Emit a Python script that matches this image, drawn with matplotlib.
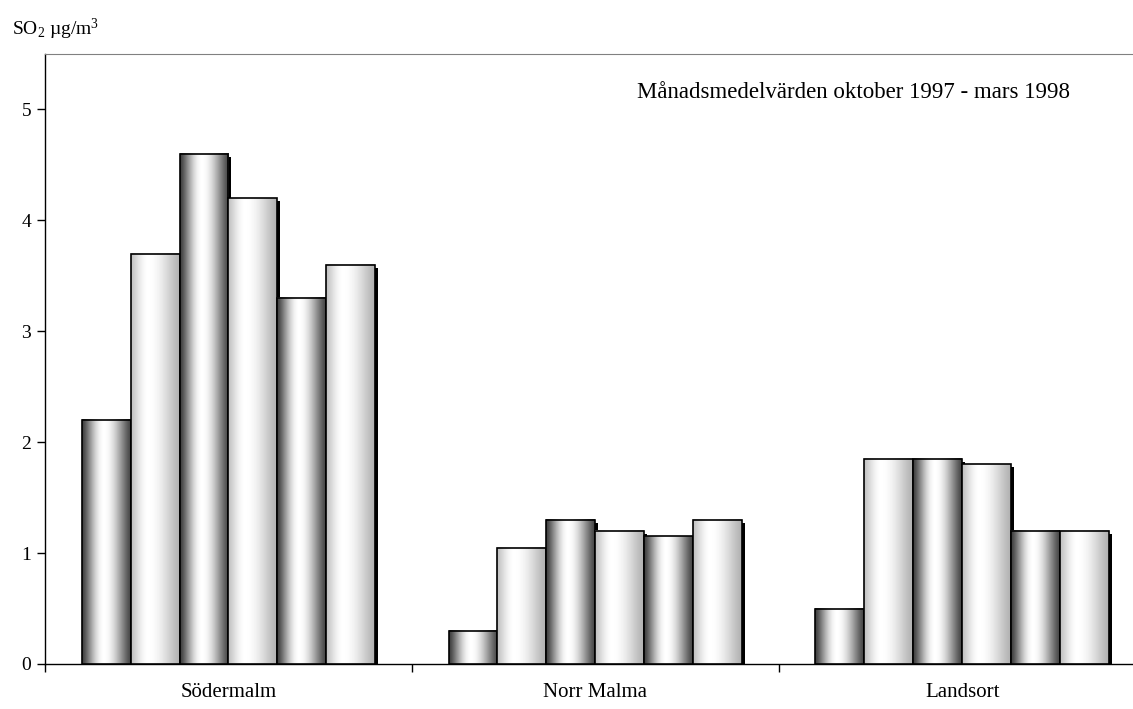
import numpy as np
import matplotlib
matplotlib.use("Agg")
import matplotlib.pyplot as plt
from matplotlib.patches import Rectangle
from matplotlib.transforms import offset_copy

plt.rcParams['font.family'] = ['Liberation Serif', 'DejaVu Serif']
plt.rcParams['mathtext.fontset'] = 'custom'
plt.rcParams['mathtext.rm'] = 'Liberation Serif'
plt.rcParams['mathtext.default'] = 'regular'

stationer = ['Södermalm', 'Norr Malma', 'Landsort']
# oktober, november, december, januari, februari, mars
sodermalm = [2.2, 3.7, 4.6, 4.2, 3.3, 3.6]
norr_malma = [0.3, 1.05, 1.3, 1.2, 1.15, 1.3]
landsort = [0.5, 1.85, 1.85, 1.8, 1.2, 1.2]
varden = [sodermalm, norr_malma, landsort]
yticks = [0, 1, 2, 3, 4, 5]

fig = plt.figure(figsize=(11.33, 7.09), dpi=100)
ax = fig.add_axes([0.0397, 0.0635, 0.9715, 0.8604])

# tvåsidig gråskala för "cylinder"-staplar
t = np.linspace(0, 1, 64)
def profil(t, kant_v, kant_h, topp):
    v = np.where(t < topp,
                 kant_v + (1 - kant_v) * np.sin(np.pi / 2 * t / topp) ** 1.3,
                 kant_h + (1 - kant_h) * np.sin(np.pi / 2 * (1 - t) / (1 - topp)) ** 1.3)
    return v
mork = profil(t, 0.25, 0.28, 0.45)[None, :]
ljus = profil(t, 0.76, 0.70, 0.35)[None, :]

skugga = offset_copy(ax.transData, fig=fig, x=3, y=-3, units='dots')
bredd = 0.8 / 6
z = 2
for i, serie in enumerate(varden):
    for j, v in enumerate(serie):
        x0 = i + 0.1 + j * bredd
        ax.add_patch(Rectangle((x0, 0), bredd, v, facecolor='black',
                               edgecolor='none', transform=skugga, zorder=z))
        grad = mork if j % 2 == 0 else ljus
        ax.imshow(grad, extent=[x0, x0 + bredd, 0, v], aspect='auto',
                  cmap='gray', vmin=0, vmax=1, interpolation='bilinear',
                  zorder=z + 1)
        ax.add_patch(Rectangle((x0, 0), bredd, v, facecolor='none',
                               edgecolor='black', linewidth=1.2, zorder=z + 2))
        z += 3

ax.set_xlim(0, 3)
ax.set_ylim(0, 5.5)
ax.set_aspect('auto')

ax.set_yticks(yticks)
ax.set_yticklabels([str(v) for v in yticks], fontsize=14)
ax.tick_params(axis='y', length=6, width=1, pad=4)

ax.set_xticks([0, 1, 2, 3])
ax.set_xticklabels([])
ax.set_xticks([0.5, 1.5, 2.5], minor=True)
ax.set_xticklabels(stationer, minor=True, fontsize=15)
ax.tick_params(axis='x', which='major', length=6, width=1)
ax.tick_params(axis='x', which='minor', length=0, pad=14)

ax.spines['top'].set_color('#808080')
ax.spines['right'].set_visible(False)
for s in ['left', 'bottom']:
    ax.spines[s].set_linewidth(1)

ax.text(2.793, 5.15, 'Månadsmedelvärden oktober 1997 - mars 1998',
        ha='right', va='center', fontsize=16.5)
fig.text(0.011, 0.958, 'SO$_2$ µg/m$^3$', fontsize=14, ha='left', va='center')

fig.savefig('out.png', dpi=100)
